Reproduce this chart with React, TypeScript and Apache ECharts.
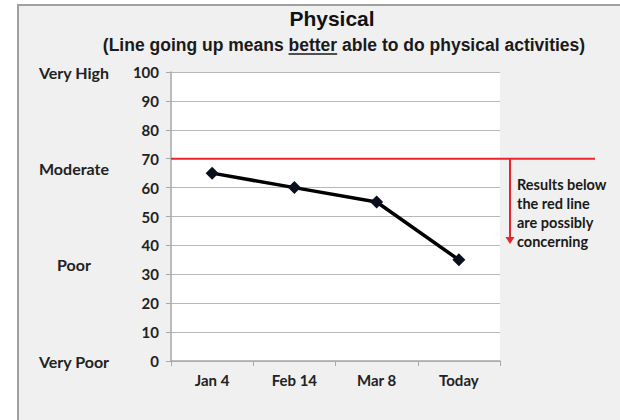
import React, { useEffect, useRef } from 'react';
import * as echarts from 'echarts';

const categories = ['Jan 4', 'Feb 14', 'Mar 8', 'Today'];
const scores = [65, 60, 55, 35];
const thresholdValue = 70;
const arrowTipValue = 40.5;
const levelLabels = ['Very High', 'Moderate', 'Poor', 'Very Poor'];
const levelValues = [100, 66.7, 33.3, 0];
const noteLines = ['Results below', 'the red line', 'are possibly', 'concerning'];
const titleText = 'Physical';
const subtitleParts = ['(Line going up means ', 'better', ' able to do physical activities)'];

const LABEL_FONT = 'Lato, "Open Sans", sans-serif';
const TITLE_FONT = '"Liberation Sans", Arial, sans-serif';

function measure(text: string, font: string): number {
  const c = document.createElement('canvas').getContext('2d');
  if (!c) return text.length * 8;
  c.font = font;
  return c.measureText(text).width;
}

export default function App() {
  const ref = useRef<HTMLDivElement>(null);
  useEffect(() => {
    document.body.style.margin = '0';
    if (!ref.current) return;
    const chart = echarts.init(ref.current, null, { renderer: 'svg' });
    const gridLeft = 171;
    const gridTop = 72;
    chart.setOption({
      animation: false,
      backgroundColor: '#ffffff',
      grid: {
        left: gridLeft,
        right: 120,
        top: gridTop,
        bottom: 59,
        show: true,
        backgroundColor: '#ffffff',
        borderWidth: 0,
      },
      xAxis: {
        type: 'category',
        data: categories,
        boundaryGap: true,
        axisLine: { show: true, lineStyle: { color: '#a8a8a8', width: 1.5 } },
        axisTick: { show: true, length: 5, lineStyle: { color: '#a8a8a8' } },
        axisLabel: { fontFamily: LABEL_FONT, fontWeight: 'bold', fontSize: 15, color: '#222', margin: 11 },
      },
      yAxis: {
        type: 'value',
        min: 0,
        max: 100,
        interval: 10,
        axisLine: { show: true, lineStyle: { color: '#a8a8a8', width: 1.5 } },
        axisTick: { show: true, length: 5, lineStyle: { color: '#a8a8a8' } },
        splitLine: { show: true, lineStyle: { color: '#b8b8b8', width: 1.2 } },
        axisLabel: { fontFamily: LABEL_FONT, fontWeight: 'bold', fontSize: 15, color: '#222', margin: 12 },
      },
      series: [
        {
          type: 'line',
          data: scores,
          symbol: 'diamond',
          symbolSize: 13,
          itemStyle: { color: '#0a0f1e' },
          lineStyle: { color: '#000000', width: 3.5 },
          z: 5,
        },
      ],
    });

    const py = (v: number) => chart.convertToPixel({ yAxisIndex: 0 }, v) as number;
    const yT = py(thresholdValue);
    const yTip = py(arrowTipValue);
    const arrowX = 510;

    const subFont = `bold 17.5px ${TITLE_FONT}`;
    const widths = subtitleParts.map((p) => measure(p, subFont));
    const total = widths.reduce((a, b) => a + b, 0);
    const subCenter = 344;
    const subY = 45;
    let sx = subCenter - total / 2;
    const subtitleEls: any[] = [];
    subtitleParts.forEach((p, i) => {
      subtitleEls.push({
        type: 'text',
        x: sx,
        y: subY,
        style: { text: p, font: subFont, fill: '#1a1a1a', textAlign: 'left', textVerticalAlign: 'middle' },
      });
      if (i === 1) {
        subtitleEls.push({
          type: 'line',
          shape: { x1: sx, y1: subY + 9, x2: sx + widths[i], y2: subY + 9 },
          style: { stroke: '#1a1a1a', lineWidth: 1.5 },
        });
      }
      sx += widths[i];
    });

    chart.setOption({
      graphic: [
        {
          type: 'rect',
          z: -10,
          silent: true,
          shape: { x: 18, y: 5, width: 610, height: 420 },
          style: { fill: '#f0f0f0', stroke: '#a0a0a0', lineWidth: 2 },
        },
        {
          type: 'text',
          x: 332,
          y: 18,
          style: { text: titleText, font: `bold 21px ${TITLE_FONT}`, fill: '#111', textAlign: 'center', textVerticalAlign: 'middle' },
        },
        ...subtitleEls,
        ...levelLabels.map((t, i) => ({
          type: 'text',
          x: 74,
          y: py(levelValues[i]),
          style: { text: t, font: `bold 16px ${LABEL_FONT}`, fill: '#222', textAlign: 'center', textVerticalAlign: 'middle' },
        })),
        {
          type: 'line',
          z: 10,
          shape: { x1: gridLeft, y1: yT, x2: 595, y2: yT },
          style: { stroke: '#e8262a', lineWidth: 2 },
        },
        {
          type: 'line',
          z: 10,
          shape: { x1: arrowX, y1: yT, x2: arrowX, y2: yTip - 5 },
          style: { stroke: '#e8262a', lineWidth: 2 },
        },
        {
          type: 'polygon',
          z: 10,
          shape: { points: [[arrowX - 4.5, yTip - 7], [arrowX + 4.5, yTip - 7], [arrowX, yTip]] },
          style: { fill: '#e8262a' },
        },
        ...noteLines.map((t, i) => ({
          type: 'text',
          x: 517,
          y: 184 + i * 19,
          style: { text: t, font: `bold 14.5px ${LABEL_FONT}`, fill: '#1a1a1a', textAlign: 'left', textVerticalAlign: 'middle' },
        })),
      ],
    });

    return () => chart.dispose();
  }, []);
  return <div ref={ref} style={{ width: 620, height: 420 }} />;
}
